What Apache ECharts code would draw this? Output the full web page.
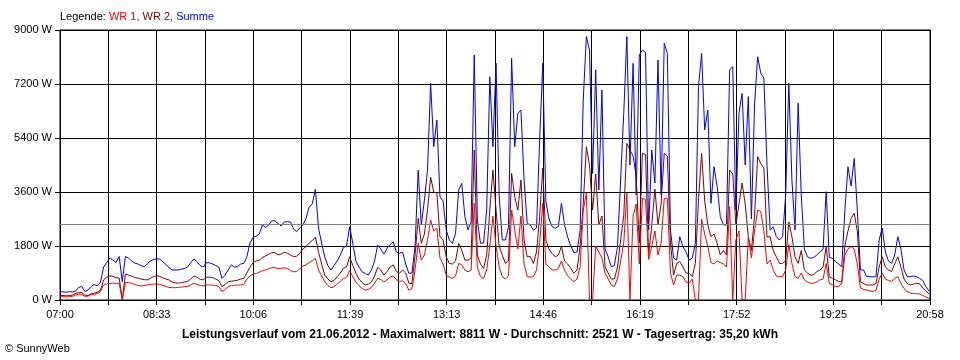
<!DOCTYPE html>
<html><head><meta charset="utf-8">
<script src="https://cdn.jsdelivr.net/npm/echarts@6/dist/echarts.min.js"></script>
<style>html,body{margin:0;padding:0;background:#fff}#c{width:960px;height:360px}</style>
</head><body><div id="c"></div>
<script>
const tickLabels = ['07:00','08:33','10:06','11:39','13:13','14:46','16:19','17:52','19:25','20:58'];
const stepMin = 3;       // minutes between samples, starting 07:00
const spanMin = 838;     // 07:00 .. 20:58
const average = 2521;
const summe = [
280,270,260,280,270,300,420,450,280,330,
450,520,470,600,1100,1250,1400,1330,1250,1450,
610,1450,1400,1300,1230,1200,1150,1110,1200,1300,
1350,1370,1370,1280,1180,1080,1000,1000,1000,1030,
1050,1100,1250,1370,1280,1150,1100,1240,1240,1200,
1150,1100,720,830,1000,1170,1100,1110,1200,1220,
1440,1900,2090,2130,2200,2500,2420,2500,2640,2640,
2550,2470,2600,2610,2600,2360,2280,2400,2500,2720,
3100,3200,3690,2400,1900,1440,1150,1000,1150,1300,
1500,1750,1800,2440,1900,1300,1100,940,880,830,
1000,1300,1830,1700,1530,1720,1850,1940,1600,1560,
1600,1200,890,900,1780,4330,2500,3330,4330,7220,
5110,6000,3440,3300,2330,2000,1890,2220,3670,3890,
2780,2330,2600,8170,2670,1890,1900,3000,7440,5110,
7890,3500,2000,2000,2440,8060,5110,6220,6330,4000,
2560,2500,2330,2400,5330,7890,3300,2700,2450,2390,
2450,3220,2500,2100,1800,1580,1600,2330,6670,8780,
8330,4220,7670,3670,7000,1700,1440,1110,1150,1780,
4000,6220,8780,4500,7890,3500,8170,8330,8250,2330,
5000,3900,8000,3500,8560,8220,2330,1400,1330,2110,
1780,1600,1330,1400,1890,7110,8220,5670,6330,3220,
4440,3780,2780,2500,2500,7670,7780,3000,6220,6890,
4500,6780,2700,6500,8110,7560,7400,4500,2330,2440,
2110,2000,2110,3500,7220,4000,2330,6560,3500,1700,
1440,1390,1420,1500,1600,1700,3610,1420,1390,1280,
1200,1110,3000,4440,3800,4720,3000,1000,1000,780,
780,770,780,2000,2400,1600,1300,1220,1500,2110,
1700,1000,780,780,800,780,720,650,450,300
];
const wr2 = [
145,150,140,150,160,220,245,245,160,150,
200,230,260,330,670,760,800,790,740,730,
0,860,830,790,750,730,700,680,670,720,
780,810,790,740,700,670,600,570,560,580,
600,620,700,800,760,690,670,760,760,745,
700,645,445,520,610,630,640,660,700,720,
900,1100,1245,1300,1330,1420,1470,1520,1580,1580,
1500,1530,1590,1560,1500,1440,1460,1560,1700,1780,
1900,1980,2100,1600,1200,830,700,610,650,780,
900,1055,1100,1440,1150,900,700,580,500,530,
600,800,1090,1000,830,950,1100,1170,950,890,
1000,900,560,550,1500,2720,1890,2200,3000,4100,
3600,3560,2110,2000,1440,1220,1200,1300,1890,1660,
1330,1330,1400,5000,1500,1200,1055,1500,3000,4330,
3000,1800,1500,1220,1300,4220,3440,3000,4000,2000,
1440,1450,1220,1600,2780,4400,2000,1700,1550,1440,
1500,1780,1300,1200,1055,890,1000,1780,3220,5110,
4500,3000,4200,2500,2800,1100,900,700,700,1100,
2000,2800,5220,5000,4800,4110,1900,4890,4850,1500,
2500,3700,2500,3200,4890,4800,1900,830,1220,1280,
1100,900,890,780,1220,3330,4890,3300,2500,2110,
2200,1890,1500,1650,1500,4330,4200,2500,3200,3900,
3200,2100,1650,2800,4780,4550,4400,2100,2110,1650,
1440,1220,1220,1330,2600,2110,1440,1220,1650,1000,
900,830,840,950,1000,1100,1780,780,720,670,
620,600,1800,2300,2720,2890,2300,600,550,500,
500,500,550,1100,1440,1100,1000,950,1200,1440,
1100,700,550,500,530,560,540,400,300,200
];
const wr1 = [
110,110,100,110,120,170,190,190,120,130,
180,190,220,280,500,540,555,560,555,555,
0,580,580,560,520,490,470,480,500,520,
530,530,520,490,450,420,410,410,420,430,
445,450,500,555,520,480,470,500,500,500,
480,450,280,350,440,480,490,500,500,520,
700,800,870,880,930,980,1000,1040,1080,1080,
1050,1060,1070,1050,980,940,950,1050,1130,1170,
1250,1310,1390,1000,800,610,480,410,440,540,
620,720,750,980,780,600,480,380,330,350,
420,560,720,680,600,680,760,800,680,620,
640,550,330,380,1000,1890,1330,1500,2000,2670,
2300,2400,1400,1200,830,760,720,800,1220,1170,
1000,940,1000,3220,1100,780,720,1000,1800,2800,
1800,1100,780,700,800,3000,2330,1700,2800,1200,
780,760,780,1000,1900,3220,1200,1110,1000,1000,
1050,1300,1000,800,700,610,700,1110,3000,3560,
0,0,1800,1600,1400,900,700,500,450,700,
1300,1900,3560,0,2800,3200,1200,3390,3350,1350,
1800,2300,1500,1900,3390,3390,900,500,830,830,
780,600,560,700,0,0,2700,2200,1780,1250,
1200,1300,1250,1200,1100,3110,0,2000,2300,0,
0,2100,1400,2300,3000,2950,2300,1200,1330,1000,
800,780,780,1000,1850,1220,780,720,900,670,
600,560,560,600,670,700,1220,560,500,450,
450,560,1500,1700,1780,1700,1200,400,350,330,
300,280,330,700,900,700,650,620,720,780,
550,380,280,230,220,210,200,150,100,55
];

const FONT = 'Liberation Sans';
const xInterval = spanMin / 18;
const toPairs = arr => arr.map((v, i) => [i * stepMin, v]);
const rs = c => ({color: c, fontSize: 11, fontFamily: FONT, fontWeight: 'normal'});

const chart = echarts.init(document.getElementById('c'), null, {renderer: 'canvas'});
chart.setOption({
  animation: false,
  backgroundColor: '#fff',
  textStyle: {fontFamily: FONT},
  title: [
    {
      left: 60, top: 11, padding: 0,
      text: '{k|Legende: }{a|WR 1, }{b|WR 2, }{c|Summe}',
      textStyle: {
        fontWeight: 'normal', fontSize: 11,
        rich: {k: rs('#000'), a: rs('#ff0000'), b: rs('#800000'), c: rs('#0000ff')}
      }
    },
    {
      left: 480, top: 329, padding: 0, textAlign: 'center',
      text: 'Leistungsverlauf vom 21.06.2012 - Maximalwert: 8811 W - Durchschnitt: 2521 W - Tagesertrag: 35,20 kWh',
      textStyle: {color: '#000', fontSize: 12, fontWeight: 'bold', fontFamily: FONT}
    },
    {
      left: 5, top: 343, padding: 0,
      text: '© SunnyWeb',
      textStyle: {color: '#000', fontSize: 11, fontWeight: 'normal', fontFamily: FONT}
    }
  ],
  grid: {left: 60, right: 30, top: 30, bottom: 60, show: true, borderColor: '#000', borderWidth: 1, backgroundColor: 'transparent'},
  xAxis: {
    type: 'value', min: 0, max: spanMin, interval: xInterval,
    axisLine: {show: true, lineStyle: {color: '#000', width: 1}},
    axisTick: {show: true, length: 5, lineStyle: {color: '#000'}},
    splitLine: {show: true, lineStyle: {color: '#000', width: 1}},
    axisLabel: {
      color: '#000', fontSize: 11, fontFamily: FONT, margin: 9,
      showMinLabel: true, showMaxLabel: true,
      formatter: v => {
        const idx = Math.round(v / xInterval);
        return idx % 2 === 0 ? (tickLabels[idx / 2] || '') : '';
      }
    }
  },
  yAxis: {
    type: 'value', min: 0, max: 9000, interval: 1800,
    axisLine: {show: true, lineStyle: {color: '#000', width: 1}},
    axisTick: {show: true, length: 5, lineStyle: {color: '#000'}},
    splitLine: {show: true, lineStyle: {color: '#000', width: 1}},
    axisLabel: {color: '#000', fontSize: 11, fontFamily: FONT, margin: 8, formatter: v => v + ' W'}
  },
  series: [
    {
      name: 'Durchschnitt', type: 'line', data: [], z: 1,
      markLine: {
        silent: true, symbol: 'none', animation: false,
        label: {show: false},
        lineStyle: {color: '#808080', type: 'solid', width: 1},
        data: [{yAxis: average}]
      }
    },
    {name: 'Summe', type: 'line', data: toPairs(summe), showSymbol: false, z: 2,
     lineStyle: {color: '#0000ff', width: 1}, itemStyle: {color: '#0000ff'}},
    {name: 'WR 2', type: 'line', data: toPairs(wr2), showSymbol: false, z: 3,
     lineStyle: {color: '#800000', width: 1}, itemStyle: {color: '#800000'}},
    {name: 'WR 1', type: 'line', data: toPairs(wr1), showSymbol: false, z: 4,
     lineStyle: {color: '#ff0000', width: 1}, itemStyle: {color: '#ff0000'}}
  ]
});
</script>
</body></html>
